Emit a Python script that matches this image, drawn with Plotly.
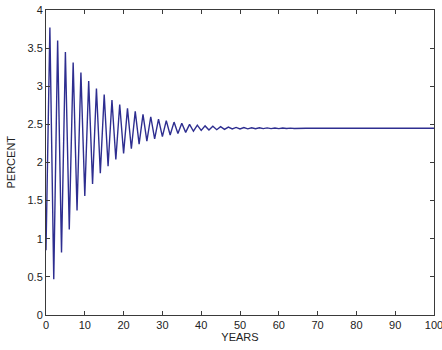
import plotly.graph_objects as go

# Turning points of the damped oscillation
trough_years = list(range(0, 68, 2))
trough_values = [0.85, 0.47, 0.82, 1.12, 1.37, 1.56, 1.72, 1.86, 1.95, 2.04,
                 2.12, 2.18, 2.24, 2.28, 2.31, 2.34, 2.36, 2.38, 2.395, 2.41,
                 2.42, 2.425, 2.43, 2.435, 2.44, 2.44, 2.442, 2.443, 2.444, 2.445,
                 2.445, 2.446, 2.446, 2.447]
peak_years = list(range(1, 69, 2))
peak_values = [3.77, 3.60, 3.45, 3.31, 3.18, 3.07, 2.97, 2.89, 2.82, 2.76,
               2.71, 2.67, 2.63, 2.60, 2.57, 2.55, 2.53, 2.515, 2.50, 2.49,
               2.48, 2.475, 2.47, 2.465, 2.46, 2.458, 2.456, 2.455, 2.454, 2.453,
               2.452, 2.451, 2.45, 2.45]
steady_years = [69, 100]
steady_values = [2.45, 2.45]

years = []
values = []
for i in range(len(trough_years)):
    years.append(trough_years[i]); values.append(trough_values[i])
    years.append(peak_years[i]); values.append(peak_values[i])
years += steady_years
values += steady_values

x_ticks = list(range(0, 101, 10))
y_ticks = [0, 0.5, 1, 1.5, 2, 2.5, 3, 3.5, 4]
y_tick_text = ["0", "0.5", "1", "1.5", "2", "2.5", "3", "3.5", "4"]

font = dict(family="Liberation Sans, Arial", size=11, color="#222")

fig = go.Figure()
fig.add_trace(go.Scatter(x=years, y=values, mode="lines",
                         line=dict(color="#2e2e90", width=1.4)))

axis_common = dict(showline=True, linecolor="#3a3a3a", linewidth=1,
                   mirror="ticks", ticks="inside", ticklen=4,
                   tickcolor="#3a3a3a", showgrid=False, zeroline=False,
                   automargin=False, ticklabeloverflow="allow",
                   tickfont=font)

fig.update_layout(
    width=442, height=350,
    margin=dict(l=46, r=8, t=10, b=35),
    paper_bgcolor="white", plot_bgcolor="white",
    showlegend=False,
    xaxis=dict(range=[0, 100], tickvals=x_ticks,
               title=dict(text="YEARS", standoff=2, font=font),
               **axis_common),
    yaxis=dict(range=[0, 4], tickvals=y_ticks, ticktext=y_tick_text,
               **axis_common),
    annotations=[dict(text="PERCENT", textangle=-90, xref="paper", yref="paper",
                      x=0, y=0.5, xanchor="center", yanchor="middle",
                      xshift=-36, showarrow=False, font=font)],
)

fig.write_html("out.html")
